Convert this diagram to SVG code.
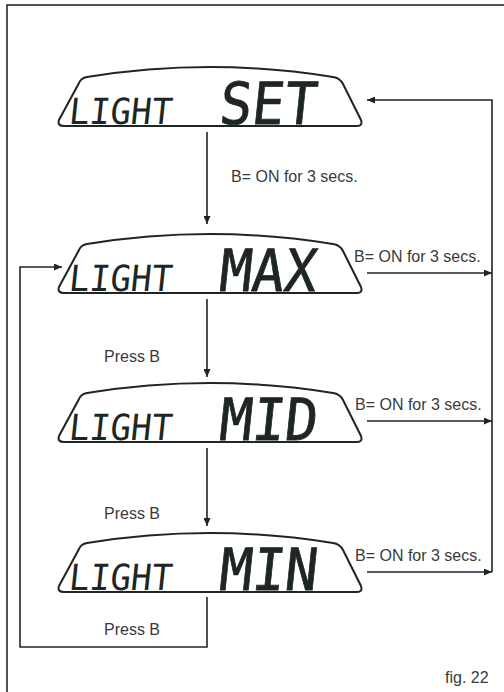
<svg xmlns="http://www.w3.org/2000/svg" width="504" height="692" viewBox="0 0 504 692">
<style>
.frame{fill:none;stroke:#1a1a1a;stroke-width:1.5}
.disp{fill:#fff;stroke:#1e2624;stroke-width:2}
.conn{fill:none;stroke:#1e2624;stroke-width:1.6}
.lbl{font-family:"Liberation Sans",Arial,sans-serif;font-size:16px;fill:#3a3a3a}
.lcd{font-family:"DejaVu Sans Mono",monospace;fill:#1e2624}
.small{font-size:36px}
.big{font-size:58px;stroke:#1e2624;stroke-width:0.8}
</style>
<defs>
<path id="lcdShape" d="M64,126 L357,126 Q363,126 361,120 L343,84 Q340,78 333,77 Q210,57 87,77 Q81,78 79,83 L59,120 Q57,126 64,126 Z"/>
<marker id="arr" markerUnits="userSpaceOnUse" markerWidth="9" markerHeight="7" refX="8" refY="3.5" orient="auto">
<path d="M0,0 L8,3.5 L0,7 Z" fill="#1e2624"/>
</marker>
</defs>
<rect x="0" y="0" width="504" height="692" fill="#fff"/>
<path class="frame" d="M7,692 V5 H504"/>

<g id="node-set">
<use href="#lcdShape" class="disp"/>
<g transform="translate(68,124) skewX(-6)"><text class="lcd small" x="0" y="0" textLength="103" lengthAdjust="spacingAndGlyphs">LIGHT</text></g>
<g transform="translate(218,124) skewX(-6)"><text class="lcd big" x="0" y="0" textLength="97" lengthAdjust="spacingAndGlyphs">SET</text></g>
</g>
<g id="node-max" transform="translate(0,167)">
<use href="#lcdShape" class="disp"/>
<g transform="translate(68,124) skewX(-6)"><text class="lcd small" x="0" y="0" textLength="103" lengthAdjust="spacingAndGlyphs">LIGHT</text></g>
<g transform="translate(218,124) skewX(-6)"><text class="lcd big" x="0" y="0" textLength="97" lengthAdjust="spacingAndGlyphs">MAX</text></g>
</g>
<g id="node-mid" transform="translate(0,316)">
<use href="#lcdShape" class="disp"/>
<g transform="translate(68,124) skewX(-6)"><text class="lcd small" x="0" y="0" textLength="103" lengthAdjust="spacingAndGlyphs">LIGHT</text></g>
<g transform="translate(218,124) skewX(-6)"><text class="lcd big" x="0" y="0" textLength="98" lengthAdjust="spacingAndGlyphs">MID</text></g>
</g>
<g id="node-min" transform="translate(0,466)">
<use href="#lcdShape" class="disp"/>
<g transform="translate(68,124) skewX(-6)"><text class="lcd small" x="0" y="0" textLength="103" lengthAdjust="spacingAndGlyphs">LIGHT</text></g>
<g transform="translate(218,124) skewX(-6)"><text class="lcd big" x="0" y="0" textLength="98" lengthAdjust="spacingAndGlyphs">MIN</text></g>
</g>

<g id="connectors">
<path class="conn" d="M207,132 V224" marker-end="url(#arr)"/>
<path class="conn" d="M207,299 V377" marker-end="url(#arr)"/>
<path class="conn" d="M207,448 V526" marker-end="url(#arr)"/>
<path class="conn" d="M207,597 V647 H20 V267 H62" marker-end="url(#arr)"/>
<path class="conn" d="M367,273 H492" marker-end="url(#arr)"/>
<path class="conn" d="M367,421 H492" marker-end="url(#arr)"/>
<path class="conn" d="M367,572 H492" marker-end="url(#arr)"/>
<path class="conn" d="M492,572 V100 H367" marker-end="url(#arr)"/>
</g>

<g id="labels">
<text class="lbl" x="231" y="182">B= ON for 3 secs.</text>
<text class="lbl" x="354" y="262">B= ON for 3 secs.</text>
<text class="lbl" x="355" y="410">B= ON for 3 secs.</text>
<text class="lbl" x="355" y="561">B= ON for 3 secs.</text>
<text class="lbl" x="104" y="362">Press B</text>
<text class="lbl" x="104" y="519">Press B</text>
<text class="lbl" x="104" y="635">Press B</text>
<text class="lbl" x="445" y="683">fig. 22</text>
</g>
</svg>
